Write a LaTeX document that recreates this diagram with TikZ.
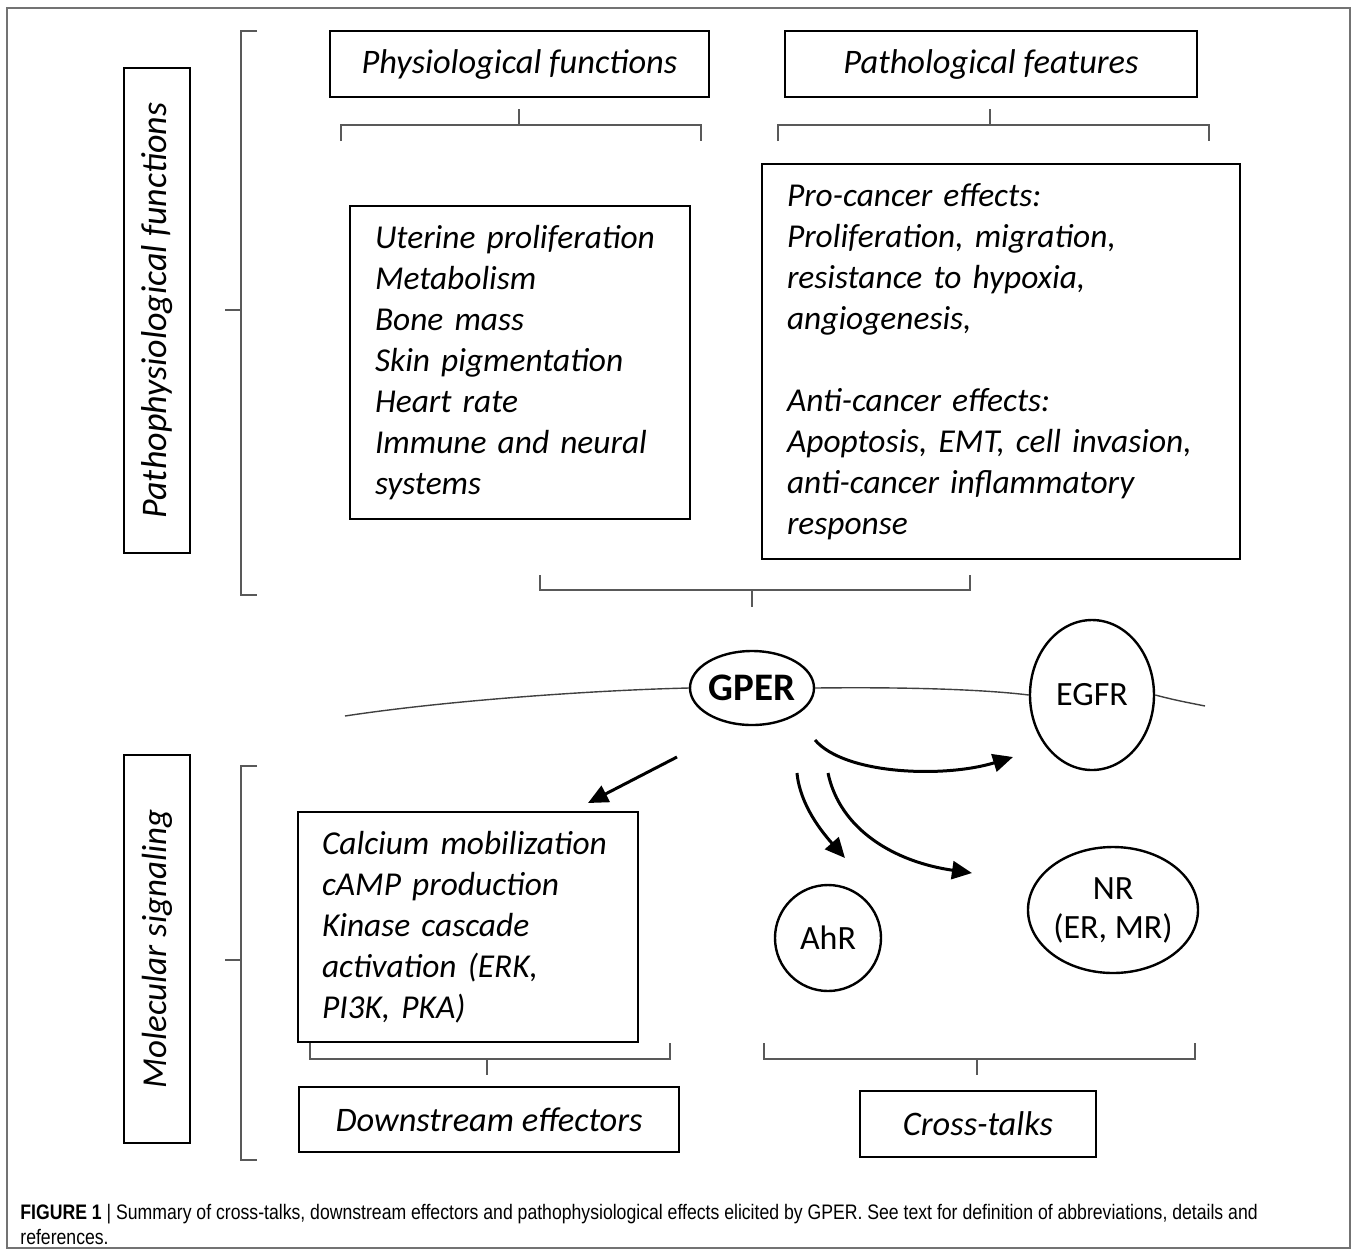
\documentclass[tikz,border=0pt]{standalone}
\usepackage{fontspec}
\setmainfont{Carlito}
\newfontfamily\capfont[FakeStretch=0.84]{Liberation Sans}
\usetikzlibrary{arrows.meta,shapes.geometric}
\tikzset{
  box/.style={draw, line width=1.2pt, rectangle, inner sep=0pt},
  lbl/.style={box, font=\fontsize{17.2}{20}\selectfont\itshape},
  txt/.style={box, align=left, font=\fontsize{16.7}{20.5}\selectfont\itshape},
  oval/.style={draw, line width=1.2pt, ellipse, inner sep=0pt},
  rec/.style={oval, font=\fontsize{17}{19.5}\selectfont},
  brk/.style={draw=black!65, line width=0.7pt},
  memb/.style={draw=black!75, line width=0.7pt},
  arr/.style={line width=1.5pt, -{Triangle[length=10pt,width=9pt]}},
}
\begin{document}
\begin{tikzpicture}[x=0.5pt,y=-0.5pt]
\useasboundingbox (0,0) rectangle (1357,1250);
\draw[black!55, line width=0.6pt] (7,8) rectangle (1350,1248);

% side labels
\node[lbl, rotate=90, minimum width=242.5pt, minimum height=33pt, font=\fontsize{18}{20}\selectfont\itshape] (pf) at (157,310.5) {Pathophysiological functions};
\node[lbl, rotate=90, minimum width=194pt, minimum height=33pt, font=\fontsize{17.5}{20}\selectfont\itshape] (ms) at (157,949) {Molecular signaling};

% top label boxes
\node[lbl, minimum width=189.5pt, minimum height=33pt] (phys) at (519.5,64) {Physiological functions};
\node[lbl, minimum width=206pt, minimum height=33pt] (path) at (991,64) {Pathological features};

% content boxes
\node[txt, minimum width=170pt, minimum height=156.5pt, text width=145pt, inner xsep=12.5pt] (leftc) at (520,362.5)
 {Uterine proliferation\\Metabolism\\Bone mass\\Skin pigmentation\\Heart rate\\Immune and neural\\systems};
\node[txt, minimum width=239pt, minimum height=197.5pt, text width=214pt, inner xsep=12.5pt] (rightc) at (1001,361.5)
 {Pro-cancer effects:\\Proliferation, migration,\\resistance to hypoxia,\\angiogenesis,\\[20.5pt]Anti-cancer effects:\\Apoptosis, EMT, cell invasion,\\anti-cancer inflammatory\\response};
\node[txt, minimum width=170pt, minimum height=115pt, text width=146pt, inner xsep=12pt] (eff) at (468,927)
 {Calcium mobilization\\cAMP production\\Kinase cascade\\activation (ERK,\\PI3K, PKA)};

% bottom label boxes
\node[lbl, minimum width=190pt, minimum height=32.5pt] (down) at (489,1119.5) {Downstream effectors};
\node[lbl, minimum width=118pt, minimum height=33pt] (cross) at (978,1124) {Cross-talks};

% receptors
\node[oval, minimum width=62pt, minimum height=37pt, font=\fontsize{19.5}{22}\selectfont\bfseries] (gper) at (752,688) {GPER};
\node[rec, minimum width=62pt, minimum height=75pt] (egfr) at (1092,695) {EGFR};
\node[rec, minimum width=53pt, minimum height=53pt] (ahr) at (828,938) {AhR};
\node[rec, minimum width=85pt, minimum height=63pt, align=center] (nr) at (1113,910) {NR\\(ER, MR)};

% membrane
\coordinate (mL) at (345,716);
\coordinate (mR) at (1205,706);
\draw[memb] (mL) .. controls (450,700) and (600,690) .. (gper.west);
\draw[memb] (gper.east) .. controls (900,687) and (980,689) .. (egfr.west);
\draw[memb] (egfr.east) .. controls (1175,700) .. (mR);

% brackets
\draw[brk] (257,31) -- (241,31) -- (241,595) -- (257,595) (225,310) -- (241,310);
\draw[brk] (341,141) -- (341,125) -- (701,125) -- (701,141) (519,125) -- (519,109);
\draw[brk] (778,141) -- (778,125) -- (1209,125) -- (1209,141) (990,125) -- (990,109);
\draw[brk] (540,575) -- (540,590) -- (970,590) -- (970,575) (752,590) -- (752,607);
\draw[brk] (257,766) -- (241,766) -- (241,1160) -- (257,1160) (225,960) -- (241,960);
\draw[brk] (310,1043) -- (310,1059) -- (670,1059) -- (670,1043) (487,1059) -- (487,1075);
\draw[brk] (764,1043) -- (764,1059) -- (1195,1059) -- (1195,1043) (977,1059) -- (977,1075);

% arrows
\coordinate (a1s) at (677,757);
\coordinate (a1e) at (588,803);
\coordinate (a2s) at (815,740);
\coordinate (a2e) at (1013,757);
\coordinate (a3s) at (797,773);
\coordinate (a3e) at (845,858);
\coordinate (a4s) at (828,773);
\coordinate (a4e) at (972,873);
\draw[arr] (a1s) -- (a1e);
\draw[arr] (a2s) .. controls (845,775) and (945,778) .. (a2e);
\draw[arr] (a3s) .. controls (800,805) and (822,832) .. (a3e);
\draw[arr] (a4s) .. controls (840,830) and (895,862) .. (a4e);

% caption
\node[anchor=west, inner sep=0pt, font=\capfont\fontsize{10.5}{12.5}\selectfont, align=left] (cap) at (20,1224)
 {\textbf{FIGURE 1} | Summary of cross-talks, downstream effectors and pathophysiological effects elicited by GPER. See text for definition of abbreviations, details and\\references.};
\end{tikzpicture}
\end{document}
